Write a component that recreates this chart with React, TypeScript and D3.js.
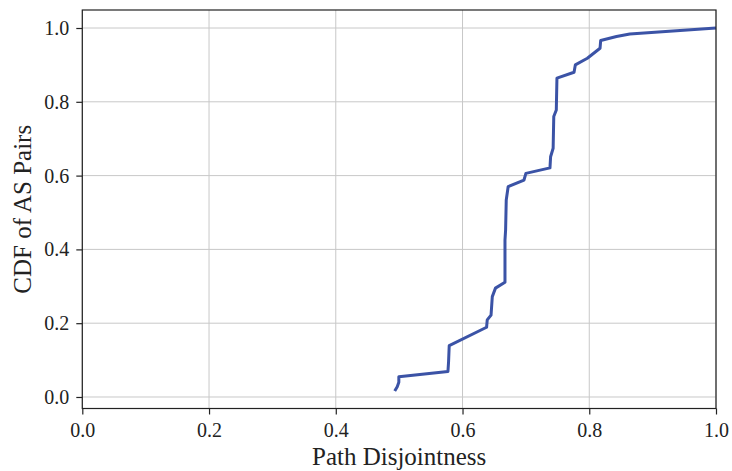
import React, { useEffect, useRef } from "react";
import * as d3 from "d3";

// CDF curve points
const disjointness = [
  0.493, 0.497, 0.4995, 0.4995, 0.577, 0.578, 0.579, 0.638, 0.639, 0.645, 0.647, 0.652,
  0.667, 0.667, 0.668, 0.669, 0.672, 0.697, 0.7, 0.738, 0.739, 0.743, 0.744, 0.748,
  0.749, 0.776, 0.778, 0.797, 0.817, 0.818, 0.843, 0.864, 1.0,
];
const cdf = [
  0.016, 0.028, 0.04, 0.055, 0.069, 0.096, 0.139, 0.189, 0.209, 0.222, 0.272, 0.295,
  0.311, 0.425, 0.453, 0.534, 0.57, 0.588, 0.606, 0.621, 0.651, 0.674, 0.76, 0.778,
  0.864, 0.88, 0.9, 0.918, 0.945, 0.966, 0.977, 0.984, 1.0,
];
const xTicks = [0, 0.2, 0.4, 0.6, 0.8, 1.0];
const yTicks = [0, 0.2, 0.4, 0.6, 0.8, 1.0];

const App = () => {
  const svgRef = useRef<SVGSVGElement>(null);

  useEffect(() => {
    const width = 732, height = 471;
    const left = 82.3, right = 716, top = 10, bottom = 408.5;

    const svg = d3.select(svgRef.current)
      .attr("width", width)
      .attr("height", height);
    svg.selectAll("*").remove();

    const x = d3.scaleLinear().domain([0, 1]).range([left, right]);
    const y = d3.scaleLinear().domain([-0.0312, 1.0488]).range([bottom, top]);

    const font = "'Liberation Serif', 'Times New Roman', serif";

    // grid
    const grid = svg.append("g");
    grid.selectAll("line.gx").data(xTicks).enter().append("line")
      .attr("x1", d => x(d)).attr("x2", d => x(d))
      .attr("y1", top).attr("y2", bottom)
      .attr("stroke", "#c8c8c8").attr("stroke-width", 1);
    grid.selectAll("line.gy").data(yTicks).enter().append("line")
      .attr("x1", left).attr("x2", right)
      .attr("y1", d => y(d)).attr("y2", d => y(d))
      .attr("stroke", "#c8c8c8").attr("stroke-width", 1);

    // curve
    const pts: [number, number][] = disjointness.map((v, i) => [v, cdf[i]]);
    const line = d3.line<[number, number]>().x(d => x(d[0])).y(d => y(d[1]));
    svg.append("path")
      .attr("d", line(pts))
      .attr("fill", "none")
      .attr("stroke", "#3b53a6")
      .attr("stroke-width", 3)
      .attr("stroke-linejoin", "round");

    // frame
    svg.append("rect")
      .attr("x", left).attr("y", top)
      .attr("width", right - left).attr("height", bottom - top)
      .attr("fill", "none").attr("stroke", "#222").attr("stroke-width", 1.2);

    const xAxis = d3.axisBottom(x)
      .tickValues(xTicks)
      .tickFormat(d3.format(".1f"))
      .tickSize(6)
      .tickPadding(8);
    const yAxis = d3.axisLeft(y)
      .tickValues(yTicks)
      .tickFormat(d3.format(".1f"))
      .tickSize(6)
      .tickPadding(7);

    const gx = svg.append("g")
      .attr("transform", `translate(0,${bottom})`)
      .call(xAxis);
    const gy = svg.append("g")
      .attr("transform", `translate(${left},0)`)
      .call(yAxis);

    [gx, gy].forEach(g => {
      g.select(".domain").remove();
      g.selectAll("line").attr("stroke", "#222").attr("stroke-width", 1.2);
      g.selectAll("text")
        .style("font-family", font)
        .style("font-size", "20px")
        .attr("fill", "#222");
    });

    svg.append("text")
      .attr("x", (left + right) / 2)
      .attr("y", 465)
      .attr("text-anchor", "middle")
      .style("font-family", font)
      .style("font-size", "25px")
      .attr("fill", "#222")
      .text("Path Disjointness");

    svg.append("text")
      .attr("transform", `translate(31,${(top + bottom) / 2}) rotate(-90)`)
      .attr("text-anchor", "middle")
      .style("font-family", font)
      .style("font-size", "25px")
      .attr("fill", "#222")
      .text("CDF of AS Pairs");
  }, []);

  return <svg ref={svgRef} style={{ position: "absolute", left: 0, top: 0 }}></svg>;
};

export default App;
